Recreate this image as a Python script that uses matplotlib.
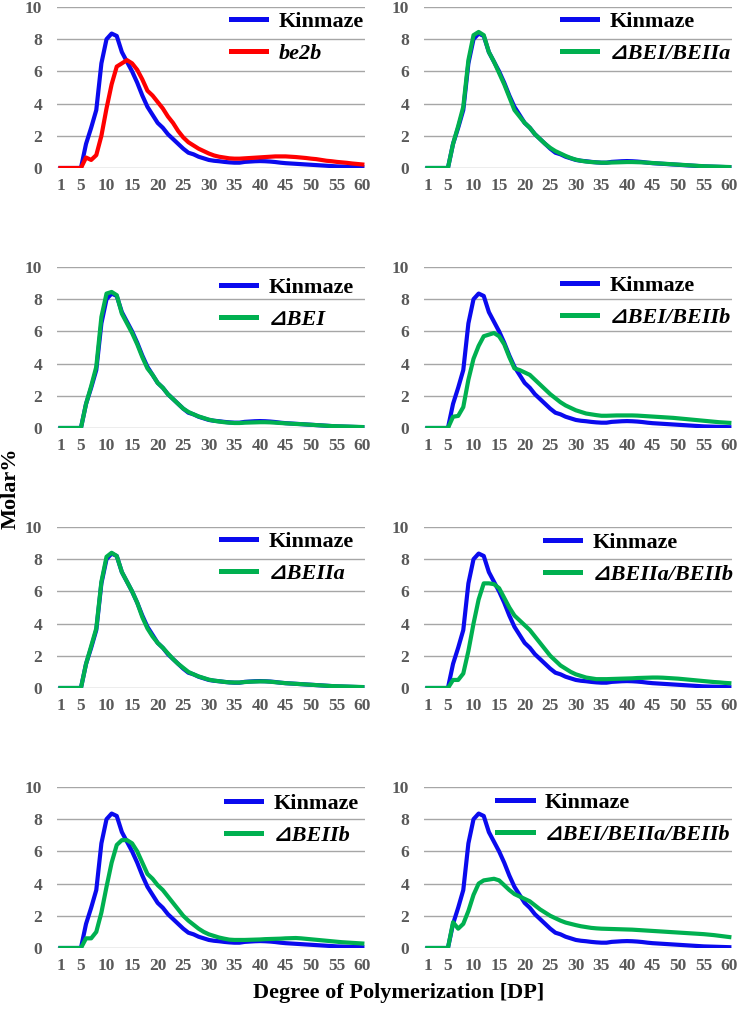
import matplotlib
matplotlib.use("Agg")
import matplotlib.pyplot as plt
import numpy as np

dp = list(range(1, 61))

kinmaze = [0, 0, 0, 0, 0, 1.5, 2.5, 3.6, 6.5, 8.0,
           8.35, 8.2, 7.2, 6.6, 6.0, 5.3, 4.5, 3.8, 3.3, 2.8,
           2.5, 2.1, 1.8, 1.5, 1.2, 0.95, 0.85, 0.7, 0.6, 0.5,
           0.45, 0.42, 0.38, 0.35, 0.33, 0.33, 0.38, 0.4, 0.42, 0.43,
           0.42, 0.4, 0.37, 0.33, 0.3, 0.28, 0.26, 0.24, 0.22, 0.2,
           0.18, 0.16, 0.14, 0.12, 0.1, 0.09, 0.08, 0.07, 0.06, 0.05]

be2b = [0, 0, 0, 0, 0, 0.65, 0.5, 0.8, 2.0, 3.7,
        5.2, 6.3, 6.5, 6.7, 6.5, 6.1, 5.5, 4.8, 4.5, 4.1,
        3.7, 3.2, 2.8, 2.3, 1.9, 1.6, 1.4, 1.2, 1.05, 0.9,
        0.78, 0.7, 0.65, 0.6, 0.58, 0.58, 0.6, 0.62, 0.64, 0.66,
        0.68, 0.7, 0.72, 0.72, 0.72, 0.7, 0.68, 0.65, 0.62, 0.58,
        0.55, 0.5, 0.45, 0.42, 0.38, 0.35, 0.32, 0.28, 0.25, 0.22]

bei_beiia = [0, 0, 0, 0, 0, 1.5, 2.6, 3.8, 6.7, 8.25,
             8.45, 8.25, 7.2, 6.6, 5.9, 5.2, 4.4, 3.6, 3.2, 2.8,
             2.5, 2.1, 1.8, 1.5, 1.25, 1.05, 0.9, 0.75, 0.62, 0.52,
             0.45, 0.4, 0.37, 0.35, 0.33, 0.33, 0.34, 0.35, 0.36, 0.37,
             0.37, 0.36, 0.35, 0.33, 0.31, 0.29, 0.27, 0.25, 0.23, 0.21,
             0.19, 0.17, 0.15, 0.13, 0.11, 0.1, 0.09, 0.08, 0.07, 0.06]

bei = [0, 0, 0, 0, 0, 1.5, 2.6, 3.8, 6.9, 8.35,
       8.45, 8.25, 7.1, 6.5, 5.9, 5.2, 4.4, 3.7, 3.3, 2.8,
       2.5, 2.1, 1.8, 1.5, 1.2, 1.0, 0.85, 0.72, 0.62, 0.52,
       0.45, 0.4, 0.36, 0.33, 0.31, 0.31, 0.33, 0.34, 0.35, 0.36,
       0.36, 0.35, 0.33, 0.31, 0.29, 0.27, 0.25, 0.24, 0.22, 0.2,
       0.18, 0.16, 0.14, 0.12, 0.11, 0.1, 0.09, 0.08, 0.07, 0.06]

bei_beiib = [0, 0, 0, 0, 0, 0.7, 0.75, 1.3, 3.0, 4.3,
             5.1, 5.7, 5.8, 5.9, 5.7, 5.2, 4.4, 3.7, 3.6, 3.45,
             3.3, 3.0, 2.7, 2.4, 2.1, 1.85, 1.6, 1.4, 1.25, 1.1,
             1.0, 0.9, 0.85, 0.8, 0.76, 0.76, 0.77, 0.78, 0.78, 0.78,
             0.78, 0.77, 0.75, 0.73, 0.71, 0.69, 0.67, 0.65, 0.63, 0.6,
             0.57, 0.54, 0.51, 0.48, 0.45, 0.42, 0.39, 0.36, 0.34, 0.32]

beiia = [0, 0, 0, 0, 0, 1.5, 2.6, 3.7, 6.6, 8.15,
         8.4, 8.2, 7.2, 6.6, 6.0, 5.3, 4.4, 3.7, 3.2, 2.8,
         2.5, 2.15, 1.8, 1.5, 1.25, 1.0, 0.85, 0.72, 0.62, 0.52,
         0.46, 0.42, 0.38, 0.35, 0.34, 0.34, 0.37, 0.39, 0.4, 0.41,
         0.41, 0.39, 0.36, 0.33, 0.3, 0.28, 0.26, 0.24, 0.22, 0.2,
         0.18, 0.16, 0.14, 0.12, 0.11, 0.1, 0.09, 0.08, 0.07, 0.06]

beiia_beiib = [0, 0, 0, 0, 0, 0.5, 0.5, 0.9, 2.3, 4.0,
               5.5, 6.5, 6.5, 6.45, 6.2, 5.6, 5.0, 4.5, 4.2, 3.9,
               3.6, 3.2, 2.8, 2.4, 2.0, 1.7, 1.4, 1.2, 1.0, 0.85,
               0.75, 0.65, 0.6, 0.55, 0.55, 0.55, 0.56, 0.57, 0.58, 0.59,
               0.6, 0.62, 0.63, 0.64, 0.65, 0.65, 0.64, 0.62, 0.6, 0.58,
               0.55, 0.52, 0.49, 0.46, 0.43, 0.4, 0.37, 0.35, 0.32, 0.3]

beiib = [0, 0, 0, 0, 0, 0.6, 0.6, 1.0, 2.2, 3.8,
         5.3, 6.4, 6.7, 6.7, 6.5, 6.0, 5.3, 4.6, 4.3, 3.9,
         3.6, 3.2, 2.8, 2.4, 2.0, 1.7, 1.45, 1.2, 1.0, 0.85,
         0.75, 0.65, 0.58, 0.52, 0.5, 0.5, 0.5, 0.51, 0.52, 0.53,
         0.55, 0.56, 0.57, 0.58, 0.6, 0.61, 0.62, 0.6, 0.57, 0.54,
         0.51, 0.48, 0.45, 0.42, 0.39, 0.36, 0.34, 0.32, 0.3, 0.28]

bei_beiia_beiib = [0, 0, 0, 0, 0, 1.6, 1.2, 1.5, 2.3, 3.3,
                   4.0, 4.2, 4.25, 4.3, 4.2, 3.9, 3.6, 3.35, 3.2, 3.05,
                   2.9, 2.65, 2.4, 2.2, 2.0, 1.85, 1.7, 1.58, 1.5, 1.42,
                   1.35, 1.3, 1.25, 1.22, 1.2, 1.19, 1.18, 1.17, 1.16, 1.15,
                   1.14, 1.12, 1.1, 1.08, 1.06, 1.04, 1.02, 1.0, 0.98, 0.96,
                   0.94, 0.92, 0.9, 0.88, 0.86, 0.83, 0.8, 0.76, 0.72, 0.68]

xtick_vals = [1, 5, 10, 15, 20, 25, 30, 35, 40, 45, 50, 55, 60]
ytick_vals = [0, 2, 4, 6, 8, 10]

panels = [
    ("be2b", be2b, "#ff0000"),
    ("\u22bfBEI/BEIIa", bei_beiia, "#00b050"),
    ("\u22bfBEI", bei, "#00b050"),
    ("\u22bfBEI/BEIIb", bei_beiib, "#00b050"),
    ("\u22bfBEIIa", beiia, "#00b050"),
    ("\u22bfBEIIa/BEIIb", beiia_beiib, "#00b050"),
    ("\u22bfBEIIb", beiib, "#00b050"),
    ("\u22bfBEI/BEIIa/BEIIb", bei_beiia_beiib, "#00b050"),
]

W, H = 740, 1018
fig = plt.figure(figsize=(W / 100, H / 100), dpi=100)

serif = ["Liberation Serif", "DejaVu Serif", "DejaVu Sans"]

col_left = [57.4, 424.4]
ax_w = 308
row_tops = [7, 267, 527, 787]
ax_h = 161

# legend anchor (x of right edge, y of top) in pixels per panel
leg_anchor = [
    (368, 7), (735, 7),
    (358, 273), (735, 271),
    (358, 527), (738, 528),
    (363, 789), (735, 788),
]

for i, (name, vals, color) in enumerate(panels):
    r, c = divmod(i, 2)
    left = col_left[c]
    top = row_tops[r]
    ax = fig.add_axes([left / W, (H - top - ax_h) / H, ax_w / W, ax_h / H])
    ax.set_xlim(0.4, 60.6)
    ax.set_ylim(0, 10)
    ax.set_yticks(ytick_vals)
    ax.set_xticks(xtick_vals)
    ax.grid(axis="y", color="#a6a6a6", linewidth=1.0)
    ax.set_axisbelow(True)
    for s in ax.spines.values():
        s.set_visible(False)
    ax.tick_params(length=0, labelsize=12.5, labelcolor="#595959")
    ax.tick_params(axis="x", pad=7)
    ax.tick_params(axis="y", pad=11)
    for lab in ax.get_xticklabels() + ax.get_yticklabels():
        lab.set_fontfamily(serif)
        lab.set_fontweight("bold")
    ax.plot(dp, kinmaze, color="#0a0aee", linewidth=3.0, label="Kinmaze", solid_joinstyle="round")
    ax.plot(dp, vals, color=color, linewidth=3.0, label=name, solid_joinstyle="round")
    ax_, ay_ = leg_anchor[i]
    leg = ax.legend(loc="upper right",
                    bbox_to_anchor=(ax_ / W, (H - ay_) / H),
                    bbox_transform=fig.transFigure,
                    frameon=False, handlelength=1.6, handletextpad=0.55,
                    labelspacing=0.5, borderpad=0.2, borderaxespad=0,
                    prop={"family": serif, "weight": "bold", "size": 16})
    for ln in leg.get_lines():
        ln.set_linewidth(3.6)
    texts = leg.get_texts()
    texts[1].set_style("italic")

fig.text(11 / W, (H - 488) / H, "Molar%", rotation=90, ha="center", va="center",
         fontsize=16, fontweight="bold", family=serif)
fig.text(399 / W, (H - 993) / H, "Degree of Polymerization [DP]", ha="center", va="center",
         fontsize=16, fontweight="bold", family=serif)

fig.savefig("out.png", dpi=100)
